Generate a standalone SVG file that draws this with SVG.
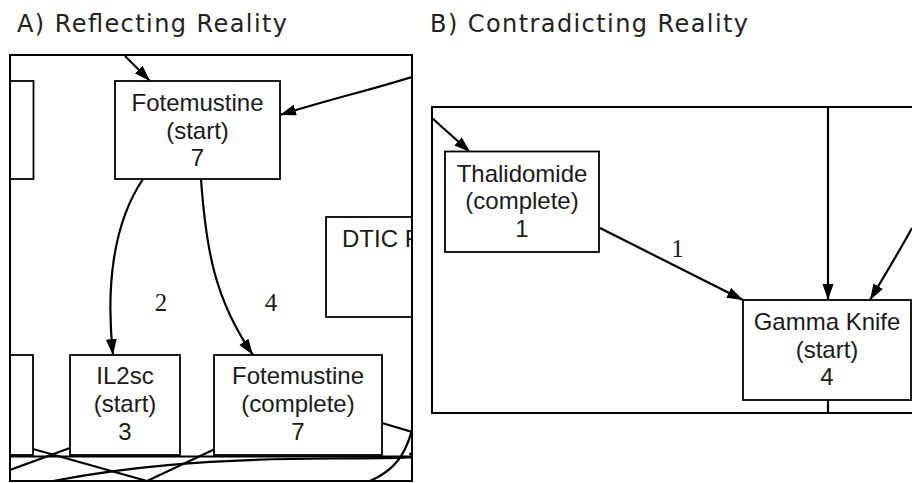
<svg xmlns="http://www.w3.org/2000/svg" width="912" height="483" viewBox="0 0 912 483">
<style>
.frame{fill:none;stroke:#000;stroke-width:2}
.box{fill:#fff;stroke:#000;stroke-width:1.8}
.edge{fill:none;stroke:#000;stroke-width:2.2}
.arr{marker-end:url(#ah)}
.lbl{font-family:"Liberation Sans",Arial,sans-serif;font-size:24px;fill:#1a1a1a;text-anchor:middle}
.elbl{font-family:"Liberation Serif","Times New Roman",serif;font-size:25px;fill:#1a1a1a;text-anchor:middle}
.title{font-family:"DejaVu Sans",Verdana,sans-serif;font-size:24px;fill:#222}
</style>
<defs>
<marker id="ah" markerUnits="userSpaceOnUse" markerWidth="18" markerHeight="14" refX="16" refY="5.5" orient="auto">
<path d="M0,0 L16,5.5 L0,11 z" fill="#000"/>
</marker>
<clipPath id="clipA"><rect x="10" y="55" width="402" height="426"/></clipPath>
<clipPath id="clipB"><rect x="432" y="107" width="480" height="306"/></clipPath>
</defs>
<rect width="912" height="483" fill="#fff"/>
<text class="title" x="17" y="32" textLength="270" lengthAdjust="spacing">A) Reflecting Reality</text>
<text class="title" x="430" y="32" textLength="318" lengthAdjust="spacing">B) Contradicting Reality</text>

<g id="panelA" clip-path="url(#clipA)">
  <g id="connectorsA">
    <path class="edge arr" d="M125,56 L150,81"/>
    <path class="edge arr" d="M412,77 C370,90 320,102 280,115"/>
    <path class="edge arr" d="M143,179 C112,225 106,290 113,355"/>
    <path class="edge arr" d="M201,179 C206,250 215,300 253,355"/>
    <path class="edge" d="M33,449 L147,481"/>
    <path class="edge" d="M70,448 L10,470"/>
    <path class="edge" d="M10,456.5 L412,456.5"/>
    <path class="edge" d="M215,449 L147,481"/>
    <path class="edge" d="M382,423 L412,432"/>
    <path class="edge" d="M412,430 C405,455 395,470 370,481"/>
    <path class="edge" d="M53,481 C120,468 200,459 330,458.5 S400,456 412,453"/>
    <text class="elbl" x="161" y="311">2</text>
    <text class="elbl" x="271" y="311">4</text>
  </g>
  <g id="nodeA_left_top"><rect class="box" x="-20" y="81" width="53.5" height="98"/></g>
  <g id="nodeA_left_bottom"><rect class="box" x="-20" y="355" width="53" height="100"/></g>
  <g id="node_fotemustine_start">
    <rect class="box" x="115" y="81" width="165" height="98"/>
    <text class="lbl" x="197.5" y="111">Fotemustine</text>
    <text class="lbl" x="197.5" y="138.5">(start)</text>
    <text class="lbl" x="197.5" y="166">7</text>
  </g>
  <g id="node_dtic">
    <rect class="box" x="326" y="217" width="120" height="100"/>
    <text class="lbl" x="342" y="247" style="text-anchor:start">DTIC F</text>
  </g>
  <g id="node_il2sc">
    <rect class="box" x="70" y="355" width="110" height="100"/>
    <text class="lbl" x="125" y="384">IL2sc</text>
    <text class="lbl" x="125" y="412">(start)</text>
    <text class="lbl" x="125" y="440">3</text>
  </g>
  <g id="node_fotemustine_complete">
    <rect class="box" x="214" y="355" width="168" height="100"/>
    <text class="lbl" x="298" y="384">Fotemustine</text>
    <text class="lbl" x="298" y="412">(complete)</text>
    <text class="lbl" x="298" y="440">7</text>
  </g>
</g>
<rect id="frameA" class="frame" x="10" y="55" width="402" height="426"/>

<g id="panelB" clip-path="url(#clipB)">
  <g id="connectorsB">
    <path class="edge arr" d="M432,118 L470,152"/>
    <path class="edge arr" d="M600,228 L743,300"/>
    <path class="edge arr" d="M828,107 L828,300"/>
    <path class="edge" d="M828,400 L828,413"/>
    <path class="edge arr" d="M912,228 C900,250 885,275 870,300"/>
    <text class="elbl" x="677.5" y="257">1</text>
  </g>
  <g id="node_thalidomide">
    <rect class="box" x="445" y="151.5" width="154" height="100.5"/>
    <text class="lbl" x="522" y="181.5">Thalidomide</text>
    <text class="lbl" x="522" y="209">(complete)</text>
    <text class="lbl" x="522" y="236.5">1</text>
  </g>
  <g id="node_gamma_knife">
    <rect class="box" x="743" y="300" width="168" height="100"/>
    <text class="lbl" x="827" y="330">Gamma Knife</text>
    <text class="lbl" x="827" y="357.5">(start)</text>
    <text class="lbl" x="827" y="385">4</text>
  </g>
</g>
<path id="frameB" class="frame" d="M914,107 L432,107 L432,413 L914,413"/>
</svg>
